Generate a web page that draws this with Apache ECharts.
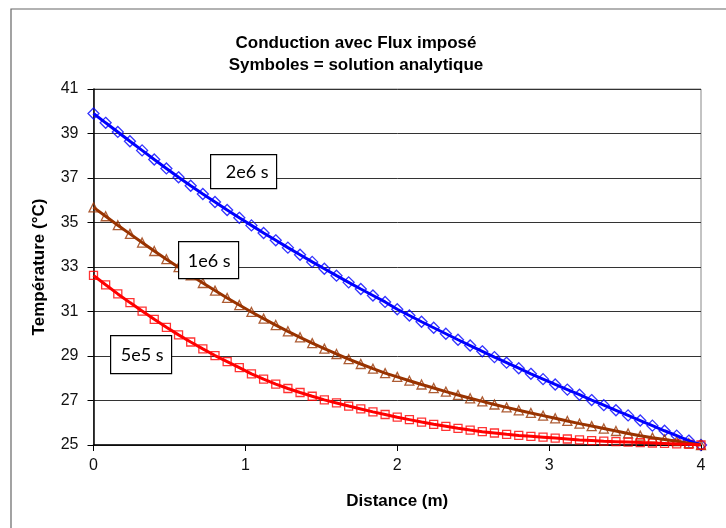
<!DOCTYPE html>
<html>
<head>
<meta charset="utf-8">
<script src="https://cdn.jsdelivr.net/npm/echarts@6/dist/echarts.min.js"></script>
<style>html,body{margin:0;padding:0;background:#fff;}#c{width:726px;height:528px;}</style>
</head>
<body>
<div id="c"></div>
<script>
const titleLines = ['Conduction avec Flux imposé', 'Symboles = solution analytique'];
const xName = 'Distance (m)';
const yName = 'Température (°C)';
const xTicks = [0, 1, 2, 3, 4];
const yTicks = [25, 27, 29, 31, 33, 35, 37, 39, 41];
const labels = ['2e6 s', '1e6 s', '5e5 s'];

const distance = [0,0.08,0.16,0.24,0.32,0.4,0.48,0.56,0.64,0.72,0.8,0.88,0.96,1.04,1.12,1.2,1.28,1.36,1.44,1.52,1.6,1.68,1.76,1.84,1.92,2,2.08,2.16,2.24,2.32,2.4,2.48,2.56,2.64,2.72,2.8,2.88,2.96,3.04,3.12,3.2,3.28,3.36,3.44,3.52,3.6,3.68,3.76,3.84,3.92,4];

const t2e6 = [39.90,39.48,39.07,38.65,38.24,37.83,37.43,37.03,36.65,36.28,35.92,35.56,35.21,34.87,34.53,34.20,33.87,33.55,33.23,32.92,32.61,32.31,32.01,31.72,31.43,31.10,30.82,30.54,30.27,30.00,29.73,29.47,29.21,28.95,28.70,28.45,28.20,27.96,27.72,27.49,27.26,27.02,26.79,26.56,26.33,26.10,25.87,25.64,25.42,25.20,25.00];

const t1e6 = [35.68,35.28,34.88,34.49,34.10,33.72,33.35,32.99,32.63,32.28,31.94,31.61,31.29,30.98,30.68,30.39,30.11,29.84,29.58,29.33,29.09,28.86,28.64,28.43,28.23,28.06,27.89,27.72,27.56,27.40,27.25,27.10,26.96,26.82,26.69,26.56,26.44,26.32,26.20,26.08,25.96,25.85,25.74,25.63,25.52,25.42,25.33,25.25,25.17,25.08,25.00];

const t5e5 = [32.62,32.20,31.79,31.40,31.02,30.65,30.29,29.95,29.63,29.32,29.02,28.75,28.48,28.20,27.96,27.74,27.54,27.36,27.19,27.03,26.89,26.75,26.62,26.49,26.37,26.25,26.14,26.03,25.93,25.84,25.75,25.67,25.60,25.54,25.48,25.43,25.39,25.35,25.31,25.27,25.23,25.20,25.17,25.15,25.13,25.11,25.09,25.07,25.05,25.03,25.00];

function pairs(ys) { return distance.map((x, i) => [x, ys[i]]); }

const curves = [
  { data: t2e6, color: '#0000FF', symbol: 'diamond', size: [11, 11] },
  { data: t1e6, color: '#993300', symbol: 'triangle', size: [9, 9] },
  { data: t5e5, color: '#FF0000', symbol: 'rect', size: [8, 8] }
];

const series = [];
curves.forEach((c) => {
  series.push({
    type: 'scatter', data: pairs(c.data), symbol: c.symbol, symbolSize: c.size,
    itemStyle: { color: 'rgba(255,255,255,0)', borderColor: c.color, borderWidth: 1.3 },
    z: 2, silent: true, animation: false
  });
});
curves.forEach((c) => {
  series.push({
    type: 'line', data: pairs(c.data), showSymbol: false, symbol: 'none',
    lineStyle: { color: c.color, width: 3 }, z: 3, silent: true, animation: false
  });
});

function box(text, left, top, w, h) {
  return {
    type: 'group', left: left, top: top,
    children: [
      { type: 'rect', shape: { x: 0, y: 0, width: w, height: h }, style: { fill: '#fff', stroke: '#000', lineWidth: 1.2 }, z: 10 },
      { type: 'text', x: w - 8, y: h / 2 + 1, style: { text: text, font: '18px Lato, "Open Sans", sans-serif', fill: '#000', align: 'right', verticalAlign: 'middle' }, z: 11 }
    ]
  };
}

const font = 'Liberation Sans, Arial, sans-serif';
const chart = echarts.init(document.getElementById('c'), null, { renderer: 'canvas' });
chart.setOption({
  backgroundColor: '#fff',
  animation: false,
  title: {
    text: titleLines.join('\n'), left: 351, top: 27, textAlign: 'center',
    textStyle: { fontFamily: font, fontWeight: 'bold', fontSize: 17, lineHeight: 22, color: '#000' }
  },
  grid: { left: 93.5, right: 25, top: 89, bottom: 83, show: true, borderColor: '#888', borderWidth: 1, backgroundColor: 'transparent' },
  xAxis: {
    type: 'value', min: xTicks[0], max: xTicks[xTicks.length - 1], interval: 1,
    name: xName, nameLocation: 'middle', nameGap: 48,
    nameTextStyle: { fontFamily: font, fontWeight: 'bold', fontSize: 17, color: '#000' },
    axisLine: { lineStyle: { color: '#000', width: 1.5 } },
    axisTick: { show: true, length: 6, lineStyle: { color: '#000' } },
    axisLabel: { fontFamily: font, fontSize: 16, color: '#111', margin: 13 },
    splitLine: { show: false }
  },
  yAxis: {
    type: 'value', min: yTicks[0], max: yTicks[yTicks.length - 1], interval: 2,
    name: yName, nameLocation: 'middle', nameGap: 46,
    nameTextStyle: { fontFamily: font, fontWeight: 'bold', fontSize: 17, color: '#000' },
    axisLine: { show: true, lineStyle: { color: '#000', width: 1.5 } },
    axisTick: { show: true, length: 6, lineStyle: { color: '#000' } },
    axisLabel: { fontFamily: font, fontSize: 16, color: '#111', margin: 15 },
    splitLine: { show: true, lineStyle: { color: '#333', width: 1 } }
  },
  graphic: [
    { type: 'rect', shape: { x: 11, y: 9, width: 800, height: 600 }, style: { fill: 'none', stroke: '#666', lineWidth: 1.2 }, z: -1, silent: true },
    box(labels[0], 210, 154, 66, 34),
    box(labels[1], 178, 241, 60, 37),
    box(labels[2], 110, 335, 61, 38)
  ],
  series: series
});
</script>
</body>
</html>
